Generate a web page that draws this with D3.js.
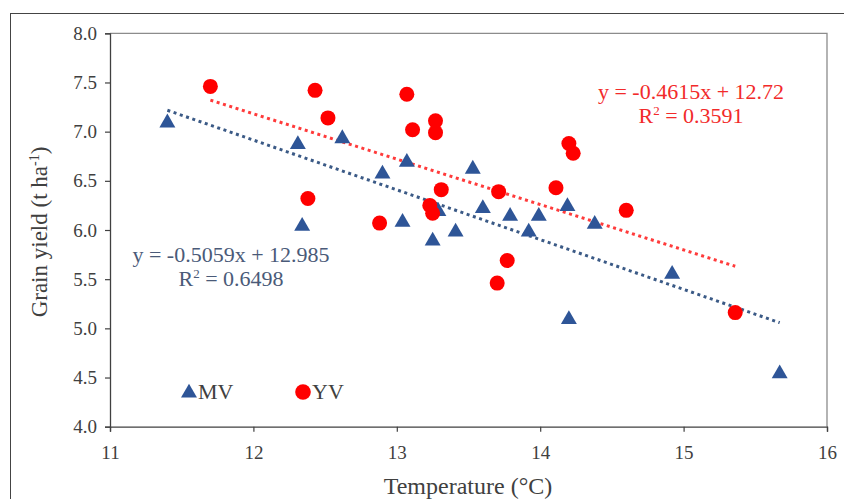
<!DOCTYPE html>
<html>
<head>
<meta charset="utf-8">
<script src="https://cdn.jsdelivr.net/npm/d3@7"></script>
<style>
  html, body { margin: 0; padding: 0; background: #fff; }
  svg { display: block; font-family: "Liberation Serif", "Times New Roman", serif; }
  .tick text { font-family: "Liberation Serif", serif !important; font-size: 19px !important; }
</style>
</head>
<body>
<svg id="chart" width="844" height="499"></svg>
<script>
// ---- data ----
const seriesNames = ["MV", "YV"];
const mvTemp = [11.40, 12.31, 12.34, 12.62, 12.90, 13.07, 13.04, 13.25, 13.29, 13.41, 13.53, 13.60, 13.79, 13.92, 13.99, 14.19, 14.20, 14.38, 14.92, 15.67];
const mvYield = [7.10, 6.88, 6.05, 6.94, 6.58, 6.70, 6.09, 5.90, 6.20, 5.99, 6.63, 6.23, 6.15, 5.99, 6.15, 6.25, 5.10, 6.07, 5.56, 4.55];
const yvTemp = [11.70, 12.43, 12.52, 13.07, 13.11, 13.27, 13.27, 12.38, 13.31, 12.88, 13.23, 13.25, 13.71, 13.70, 13.77, 14.11, 14.20, 14.23, 14.60, 15.36];
const yvYield = [7.46, 7.42, 7.14, 7.38, 7.02, 7.11, 6.99, 6.32, 6.41, 6.07, 6.25, 6.17, 6.39, 5.46, 5.69, 6.43, 6.88, 6.78, 6.20, 5.16];
const slopes = [-0.5059, -0.4615];
const intercepts = [12.985, 12.72];
const equationLabels = ["y = -0.5059x + 12.985", "y = -0.4615x + 12.72"];
const r2Labels = ["0.6498", "0.3591"];
const xTicks = [11, 12, 13, 14, 15, 16];
const yTicks = [4.0, 4.5, 5.0, 5.5, 6.0, 6.5, 7.0, 7.5, 8.0];
const xTitle = "Temperature (°C)";

// ---- styles ----
const mvColor = "#2e5597";
const yvColor = "#ff0000";
const mvLineColor = "#3b5a86";
const yvLineColor = "#ff3b3b";
const mvTextColor = "#4a5a78";
const yvTextColor = "#f22a2a";
const textColor = "#404040";
const serif = "Liberation Serif";

const svg = d3.select("#chart");
const W = 844, H = 499;
const plot = { left: 110, top: 33.3, right: 827, bottom: 426.7 };

// outer frame
svg.append("rect").attr("x", 10.5).attr("y", 13.5).attr("width", W).attr("height", H)
  .attr("fill", "none").attr("stroke", "#444").attr("stroke-width", 1);

const x = d3.scaleLinear().domain([11, 16]).range([plot.left, plot.right]);
const y = d3.scaleLinear().domain([4, 8]).range([plot.bottom, plot.top]);

// plot border (top/right)
svg.append("path")
  .attr("d", `M${plot.left},${plot.top}H${plot.right}V${plot.bottom}`)
  .attr("fill", "none").attr("stroke", "#8c8c8c").attr("stroke-width", 1.3);

// axes
const xAxis = d3.axisBottom(x).tickValues(xTicks).tickFormat(d3.format("d")).tickSize(5).tickPadding(14);
const yAxis = d3.axisLeft(y).tickValues(yTicks).tickFormat(d3.format(".1f")).tickSize(5).tickPadding(8);

const gx = svg.append("g").attr("transform", `translate(0,${plot.bottom})`).call(xAxis);
const gy = svg.append("g").attr("transform", `translate(${plot.left},0)`).call(yAxis);
[gx, gy].forEach(g => {
  g.attr("font-family", serif).attr("font-size", 19);
  g.select(".domain").attr("stroke", "#404040").attr("stroke-width", 1.3);
  g.selectAll(".tick line").attr("stroke", "#404040").attr("stroke-width", 1.2);
  g.selectAll(".tick text").attr("fill", textColor)
    .style("font-family", serif).style("font-size", "19px");
});

// axis titles
svg.append("text")
  .attr("x", 468).attr("y", 494)
  .attr("text-anchor", "middle").attr("fill", textColor)
  .style("font-size", "24px").text(xTitle);

const yt = svg.append("text")
  .attr("transform", `translate(47,${232}) rotate(-90)`)
  .attr("text-anchor", "middle").attr("fill", textColor)
  .style("font-size", "23px");
yt.append("tspan").text("Grain yield (t ha");
yt.append("tspan").attr("dy", -8).style("font-size", "14px").text("-1");
yt.append("tspan").attr("dy", 8).text(")");

// trend lines
const series = [
  { name: seriesNames[0], xs: mvTemp, ys: mvYield, color: mvColor, lineColor: mvLineColor },
  { name: seriesNames[1], xs: yvTemp, ys: yvYield, color: yvColor, lineColor: yvLineColor }
];
const line = d3.line().x(d => x(d[0])).y(d => y(d[1]));
series.forEach((s, i) => {
  const [x0, x1] = d3.extent(s.xs);
  const pts = [[x0, slopes[i] * x0 + intercepts[i]], [x1, slopes[i] * x1 + intercepts[i]]];
  svg.append("path").attr("d", line(pts))
    .attr("fill", "none").attr("stroke", s.lineColor)
    .attr("stroke-width", 3).attr("stroke-dasharray", "3 3.6");
});

// markers
const tri = d3.symbol().type(d3.symbolTriangle).size(110);
svg.append("g").selectAll("path").data(d3.range(mvTemp.length)).join("path")
  .attr("d", tri)
  .attr("transform", i => `translate(${x(mvTemp[i])},${y(mvYield[i]) + 1})`)
  .attr("fill", mvColor);

svg.append("g").selectAll("circle").data(d3.range(yvTemp.length)).join("circle")
  .attr("cx", i => x(yvTemp[i])).attr("cy", i => y(yvYield[i]))
  .attr("r", 7.5).attr("fill", yvColor);

// equations
function r2Text(xp, yp, color, val) {
  const t = svg.append("text").attr("x", xp).attr("y", yp).attr("text-anchor", "middle")
    .attr("fill", color).style("font-size", "22px");
  t.append("tspan").text("R");
  t.append("tspan").attr("dy", -8).style("font-size", "13px").text("2");
  t.append("tspan").attr("dy", 8).text(" = " + val);
}
svg.append("text").attr("x", 231).attr("y", 262).attr("text-anchor", "middle")
  .attr("fill", mvTextColor).style("font-size", "22px").text(equationLabels[0]);
r2Text(231, 286, mvTextColor, r2Labels[0]);

svg.append("text").attr("x", 691).attr("y", 99).attr("text-anchor", "middle")
  .attr("fill", yvTextColor).style("font-size", "22px").text(equationLabels[1]);
r2Text(691, 123, yvTextColor, r2Labels[1]);

// legend
const leg = svg.append("g");
leg.append("path").attr("d", tri).attr("transform", "translate(189,393)").attr("fill", mvColor);
leg.append("text").attr("x", 198).attr("y", 399).attr("fill", textColor)
  .style("font-size", "22px").text(seriesNames[0]);
leg.append("circle").attr("cx", 303).attr("cy", 392).attr("r", 7.8).attr("fill", yvColor);
leg.append("text").attr("x", 312).attr("y", 399).attr("fill", textColor)
  .style("font-size", "22px").text(seriesNames[1]);
</script>
</body>
</html>
